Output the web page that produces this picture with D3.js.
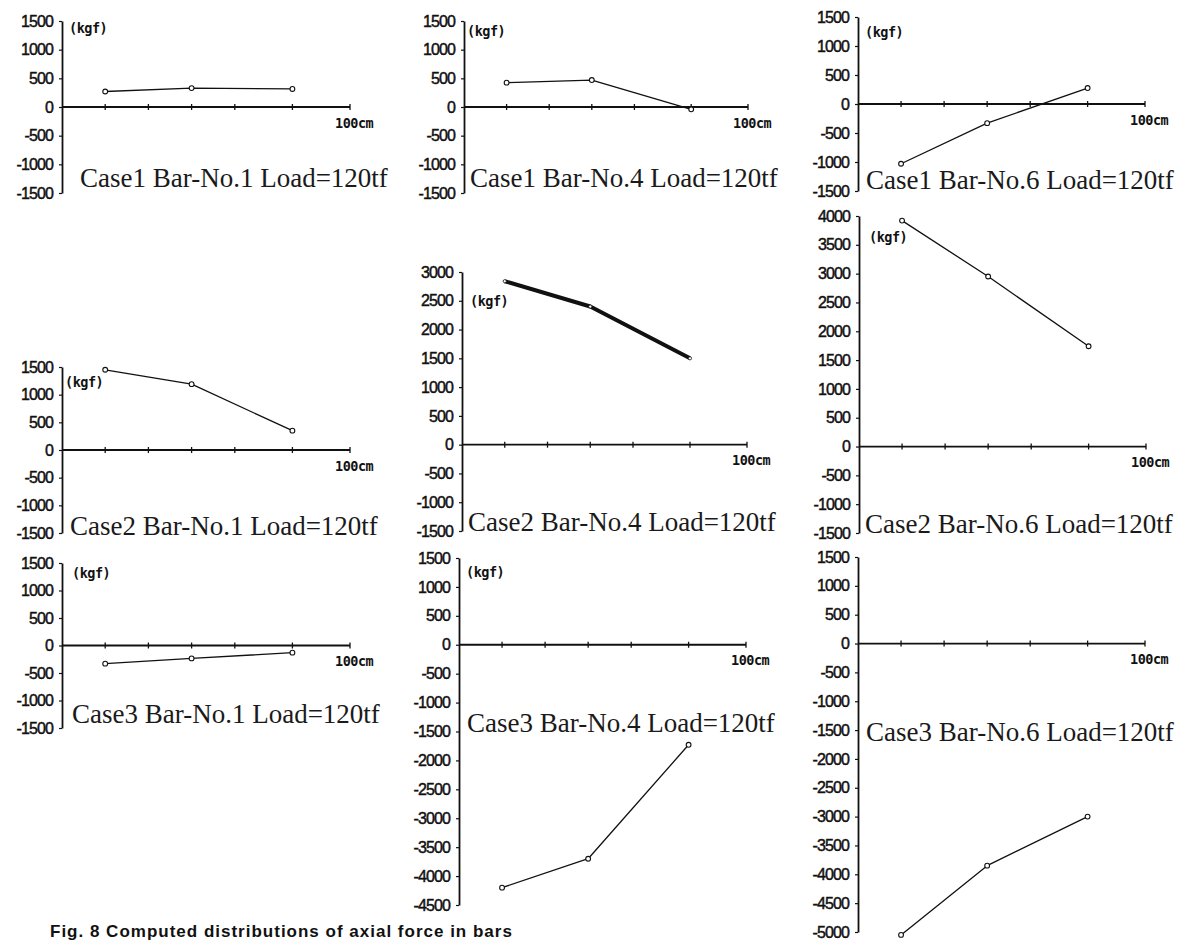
<!DOCTYPE html>
<meta charset="utf-8">
<title>Axial force distributions</title>
<script src="https://cdn.jsdelivr.net/npm/d3@7"></script>
<style>
  body { margin: 0; background: #fff; }
  svg { display: block; }
  .ylab { font-family: "Liberation Sans", Arial, sans-serif; font-size: 16px; letter-spacing: -0.9px; fill: #111; stroke: #111; stroke-width: 0.45px; }
  .mono { font-family: "DejaVu Sans Mono", monospace; font-size: 13.5px; font-weight: bold; fill: #111; letter-spacing: -0.5px; }
  .title { font-family: "Liberation Serif", "Times New Roman", serif; font-size: 27px; fill: #1a1a1a; }
  .caption { font-family: "Liberation Sans", Arial, sans-serif; font-weight: bold; font-size: 17px; letter-spacing: 1px; fill: #111; }
</style>
<body>
<svg></svg>
<script>
var width = 1197, height = 942;

// panel titles, row by row
var titles = [
  "Case1 Bar-No.1 Load=120tf", "Case1 Bar-No.4 Load=120tf", "Case1 Bar-No.6 Load=120tf",
  "Case2 Bar-No.1 Load=120tf", "Case2 Bar-No.4 Load=120tf", "Case2 Bar-No.6 Load=120tf",
  "Case3 Bar-No.1 Load=120tf", "Case3 Bar-No.4 Load=120tf", "Case3 Bar-No.6 Load=120tf"
];

// gauge positions along the bar (cm) and x ticks
var gaugePos = [15, 45, 80];
var xTicks = [15, 30, 45, 60, 80, 100];

// axial force (kgf) at each gauge
var case1 = [[270, 330, 315], [425, 470, -40], [-1030, -330, 275]];
var case2 = [[1450, 1190, 350], [2840, 2400, 1500], [3920, 2950, 1740]];
var case3 = [[-330, -235, -130], [-4200, -3700, -1730], [-5050, -3850, -3000]];

// y ranges [min, max] per panel
var yMin = [-1500, -1500, -1500, -1500, -1500, -1500, -1500, -4500, -5000];
var yMax = [1500, 1500, 1500, 1500, 3000, 4000, 1500, 1500, 1500];

var series = case1.concat(case2, case3);

// where each panel sits on the page
var layout = [
  {x0: 62,  x1: 350,  yTop: 21,  yBot: 193, title: [80, 187],  kgf: [69, 28]},
  {x0: 464, x1: 748,  yTop: 21,  yBot: 193, title: [470, 187], kgf: [467, 31]},
  {x0: 858, x1: 1145, yTop: 17,  yBot: 191, title: [866, 189], kgf: [865, 32]},
  {x0: 62,  x1: 350,  yTop: 367, yBot: 533, title: [70, 535],  kgf: [65, 382]},
  {x0: 462, x1: 747,  yTop: 272, yBot: 531, title: [468, 531], kgf: [470, 301]},
  {x0: 859, x1: 1146, yTop: 216, yBot: 533, title: [865, 533], kgf: [869, 237]},
  {x0: 62,  x1: 350,  yTop: 563, yBot: 728, title: [72, 723],  kgf: [72, 573]},
  {x0: 459, x1: 746,  yTop: 558, yBot: 905, title: [467, 732], kgf: [466, 572]},
  {x0: 858, x1: 1145, yTop: 557, yBot: 932, title: [866, 741], kgf: null}
];

var svg = d3.select("svg")
    .attr("width", width)
    .attr("height", height);

series.forEach(function(vals, i) {
  var L = layout[i];
  var x = d3.scaleLinear().domain([0, 100]).range([L.x0, L.x1]);
  var y = d3.scaleLinear().domain([yMin[i], yMax[i]]).range([L.yBot, L.yTop]);
  var g = svg.append("g").attr("class", "panel");

  // y axis
  var yAxis = d3.axisLeft(y)
      .tickValues(d3.range(yMin[i], yMax[i] + 1, 500))
      .tickSizeInner(3)
      .tickSizeOuter(0)
      .tickPadding(6)
      .tickFormat(function(d) { return String(d); });
  var ya = g.append("g")
      .attr("transform", "translate(" + L.x0 + ",0)")
      .call(yAxis);
  ya.attr("font-family", null).attr("font-size", null);
  ya.select(".domain").attr("stroke", "#111").attr("stroke-width", 1.8);
  ya.selectAll(".tick line").attr("stroke", "#111").attr("stroke-width", 1.2);
  ya.selectAll(".tick text").attr("class", "ylab").attr("fill", null);

  // x axis along zero
  var y0 = y(0);
  g.append("line")
      .attr("x1", x(0)).attr("x2", x(100))
      .attr("y1", y0).attr("y2", y0)
      .attr("stroke", "#111").attr("stroke-width", 1.8);
  g.selectAll(".xt")
    .data(xTicks)
    .enter().append("line")
      .attr("class", "xt")
      .attr("x1", function(d) { return x(d); })
      .attr("x2", function(d) { return x(d); })
      .attr("y1", y0 - 3).attr("y2", y0 + 3)
      .attr("stroke", "#111").attr("stroke-width", 1.3);

  g.append("text")
      .attr("class", "mono")
      .attr("x", x(100) - 15)
      .attr("y", y0 + 16)
      .attr("dy", "0.35em")
      .text("100cm");

  if (L.kgf) {
    g.append("text")
        .attr("class", "mono")
        .attr("x", L.kgf[0])
        .attr("y", L.kgf[1])
        .attr("dy", "0.35em")
        .text("(kgf)");
  }

  // the force line
  var pts = vals.map(function(v, k) { return [gaugePos[k], v]; });
  var line = d3.line()
      .x(function(d) { return x(d[0]); })
      .y(function(d) { return y(d[1]); });
  g.append("path")
      .datum(pts)
      .attr("d", line)
      .attr("fill", "none")
      .attr("stroke", "#111")
      .attr("stroke-width", i === 4 ? 4 : 1.3)
      .attr("stroke-linejoin", "round");
  g.selectAll(".pt")
    .data(pts)
    .enter().append("circle")
      .attr("class", "pt")
      .attr("cx", function(d) { return x(d[0]); })
      .attr("cy", function(d) { return y(d[1]); })
      .attr("r", i === 4 ? 1.6 : 2.4)
      .attr("fill", "#fff")
      .attr("stroke", "#111")
      .attr("stroke-width", i === 4 ? 0.8 : 1.1);

  g.append("text")
      .attr("class", "title")
      .attr("x", L.title[0])
      .attr("y", L.title[1])
      .text(titles[i]);
});

// figure caption at the bottom edge
svg.append("text")
    .attr("class", "caption")
    .attr("x", 50)
    .attr("y", 937)
    .text("Fig. 8 Computed distributions of axial force in bars");
</script>
</body>
